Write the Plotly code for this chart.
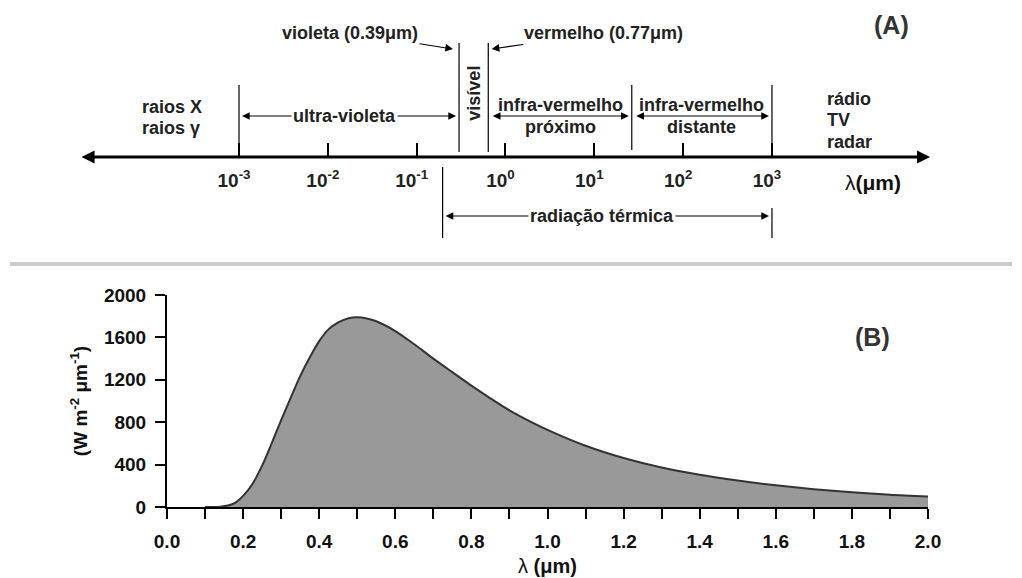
import math
import plotly.graph_objects as go

# ---------------- Panel (B): spectral irradiance ----------------
wavelength_um = [0.10, 0.12, 0.14, 0.16, 0.18, 0.20, 0.225, 0.25, 0.275, 0.30,
                 0.325, 0.35, 0.375, 0.40, 0.425, 0.45, 0.475, 0.50, 0.525, 0.55,
                 0.60, 0.65, 0.70, 0.75, 0.80, 0.85, 0.90, 0.95, 1.00, 1.10,
                 1.20, 1.30, 1.40, 1.50, 1.60, 1.70, 1.80, 1.90, 2.00]
irradiance = [0, 0, 3, 14, 42, 105, 220, 390, 600, 820,
              1030, 1235, 1410, 1565, 1678, 1742, 1779, 1790, 1779, 1752,
              1660, 1535, 1400, 1272, 1145, 1025, 912, 815, 728, 578,
              462, 372, 304, 250, 205, 168, 139, 116, 100]
x_label_ticks = [0.0, 0.2, 0.4, 0.6, 0.8, 1.0, 1.2, 1.4, 1.6, 1.8, 2.0]
y_ticks = [0, 400, 800, 1200, 1600, 2000]

# ---------------- Panel (A): electromagnetic spectrum ----------------
decade_exp = [-3, -2, -1, 0, 1, 2, 3]
decade_text = ["10<sup>-3</sup>", "10<sup>-2</sup>", "10<sup>-1</sup>", "10<sup>0</sup>",
               "10<sup>1</sup>", "10<sup>2</sup>", "10<sup>3</sup>"]
# band limits (µm) as drawn on the scale
uv_start_um = 0.001
violet_um = 0.30
red_um = 0.64
nir_fir_um = 26.4
fir_end_um = 1000
thermal_um = [0.196, 1000]
violet_label = "violeta (0.39μm)"
red_label = "vermelho (0.77μm)"

L = math.log10

W, H = 1022, 578
FONT = "Arial, 'Liberation Sans', sans-serif"
TXT = "#222222"
AX = "#000000"

fig = go.Figure()

fig.add_trace(go.Scatter(
    x=wavelength_um, y=irradiance, mode="lines", xaxis="x", yaxis="y",
    line=dict(color="#333333", width=2, shape="spline", smoothing=0.8),
    fill="tozeroy", fillcolor="#999999", hoverinfo="skip", showlegend=False))

# invisible helper trace for the spectrum-scale subplot
fig.add_trace(go.Scatter(
    x=decade_exp, y=[157] * len(decade_exp), mode="markers", xaxis="x3", yaxis="y3",
    marker=dict(opacity=0), hoverinfo="skip", showlegend=False))

# x3 range: 10^-3 at px 239, 88.83 px per decade
px_dec = 88.83
x3_range = [-3 - 239 / px_dec, -3 + (W - 239) / px_dec]

x0p, x1p = 167 / W, 928 / W
y0p, y1p = 1 - 507 / H, 1 - 295 / H

tick_font = dict(family=FONT, size=19, color="#111111")

fig.update_layout(
    width=W, height=H, margin=dict(l=0, r=0, t=0, b=0, autoexpand=False),
    paper_bgcolor="white", plot_bgcolor="rgba(0,0,0,0)",
    font=dict(family=FONT, color=TXT),
    showlegend=False,
    xaxis=dict(domain=[x0p, x1p], range=[0, 2], anchor="y", automargin=False,
               tickvals=x_label_ticks, ticktext=[f"<b>{v:.1f}</b>" for v in x_label_ticks],
               ticks="outside", ticklen=10, tickwidth=2, tickcolor=AX,
               minor=dict(dtick=0.1, tick0=0, ticks="outside", ticklen=10, tickwidth=2, tickcolor=AX),
               showline=True, linewidth=2, linecolor=AX, showgrid=False, zeroline=False,
               tickfont=tick_font, ticklabelstandoff=6,
               title=dict(text="λ <b>(μm)</b>", font=dict(family=FONT, size=20, color="#111111"), standoff=8)),
    yaxis=dict(domain=[y0p, y1p], range=[0, 2000], anchor="x", automargin=False,
               tickvals=y_ticks, ticktext=[f"<b>{v}</b>" for v in y_ticks],
               ticks="outside", ticklen=10, tickwidth=2, tickcolor=AX,
               showline=True, linewidth=2, linecolor=AX, showgrid=False, zeroline=False,
               tickfont=tick_font, ticklabelstandoff=5,
               title=dict(text="<b>(W m<sup>-2</sup> μm<sup>-1</sup>)</b>",
                          font=dict(family=FONT, size=19, color="#111111"), standoff=11)),
    xaxis2=dict(overlaying="x", anchor="y", side="top", range=[0, 2], automargin=False,
                tick0=0, dtick=0.1, ticks="inside", ticklen=10, tickwidth=2, tickcolor=AX,
                showticklabels=False, showline=True, linewidth=2, linecolor=AX,
                showgrid=False, zeroline=False),
    yaxis2=dict(overlaying="y", anchor="x", side="right", range=[0, 2000], automargin=False,
                tick0=0, dtick=400, ticks="inside", ticklen=10, tickwidth=2, tickcolor=AX,
                showticklabels=False, showline=True, linewidth=2, linecolor=AX,
                showgrid=False, zeroline=False),
    xaxis3=dict(domain=[0, 1], range=x3_range, anchor="free", position=1 - 157 / H,
                automargin=False,
                tickvals=decade_exp, ticktext=[f"<b>{t}</b>" for t in decade_text],
                ticks="inside", ticklen=14, tickwidth=2, tickcolor=AX,
                showline=False, showgrid=False, zeroline=False,
                tickfont=dict(family=FONT, size=19, color=TXT), ticklabelshift=-5,
                ticklabelstandoff=10),
    yaxis3=dict(domain=[0, 1], range=[H, 0], anchor="x3", visible=False, automargin=False),
)

shapes = []
# separator line between panels
shapes.append(dict(type="line", xref="paper", yref="paper", x0=10 / W, x1=1012 / W,
                   y0=1 - 264 / H, y1=1 - 264 / H, line=dict(color="#cccccc", width=4)))
# vertical band-limit lines
vlines = [(uv_start_um, 85, 157), (violet_um, 43, 152), (red_um, 43, 152),
          (nir_fir_um, 85, 150), (fir_end_um, 85, 157),
          (thermal_um[0], 167, 238), (thermal_um[1], 208, 238)]
for um, top, bot in vlines:
    shapes.append(dict(type="line", xref="x3", yref="y3", x0=L(um), x1=L(um), y0=top, y1=bot,
                       line=dict(color="black", width=1.2)))
fig.update_layout(shapes=shapes)

ann = []


def txt(x, y, s, size=18, xanchor="center", angle=0, color=TXT):
    ann.append(dict(x=x, y=y, xref="x3", yref="y3", text=s, showarrow=False,
                    xanchor=xanchor, yanchor="middle", textangle=angle,
                    font=dict(family=FONT, size=size, color=color)))


def arrow(xh, yh, xt, yt, s=" ", size=1, both=False, width=1.1, asize=1.4, standoff=3,
          fcolor=TXT):
    ann.append(dict(x=xh, y=yh, xref="x3", yref="y3", ax=xt, ay=yt, axref="x3", ayref="y3",
                    text=s, showarrow=True, arrowhead=2, arrowsize=asize, arrowwidth=width,
                    arrowcolor="black", standoff=standoff,
                    arrowside="end+start" if both else "end",
                    startarrowhead=2, startarrowsize=asize, startstandoff=standoff if both else 0,
                    font=dict(family=FONT, size=size, color=fcolor)))


# main axis with arrow heads at both ends
arrow(4.78, 157, -4.79, 157, both=True, width=3, asize=0.87, standoff=0)

# ultra-violet
uv_c = (L(uv_start_um) + L(violet_um)) / 2 - 0.05
arrow(L(uv_start_um), 116, uv_c, 116, "<b>ultra-violeta</b>", size=18)
arrow(L(violet_um), 116, uv_c, 116, "<b>ultra-violeta</b>", size=18, fcolor="rgba(0,0,0,0)")

# near infrared
nir_c = (L(red_um) + L(nir_fir_um)) / 2
arrow(L(nir_fir_um), 116, L(red_um), 116, both=True)
txt(nir_c, 105, "<b>infra-vermelho</b>")
txt(nir_c, 127, "<b>próximo</b>")

# far infrared
fir_c = (L(nir_fir_um) + L(fir_end_um)) / 2
arrow(L(fir_end_um), 116, L(nir_fir_um), 116, both=True)
txt(fir_c, 105, "<b>infra-vermelho</b>")
txt(fir_c, 127, "<b>distante</b>")

# thermal radiation
th_c = (L(thermal_um[0]) + L(thermal_um[1])) / 2 - 0.06
arrow(L(thermal_um[0]), 216, th_c, 216, "<b>radiação térmica</b>", size=18)
arrow(L(thermal_um[1]), 216, th_c, 216, "<b>radiação térmica</b>", size=18, fcolor="rgba(0,0,0,0)")

# visible
txt((L(violet_um) + L(red_um)) / 2, 93, "<b>visível</b>", size=18, angle=-90)

# violet / red pointers
arrow(L(violet_um) - 0.068, 49, -1.75, 33, f"<b>{violet_label}</b>", size=18, standoff=0)
arrow(L(red_um) + 0.038, 49, 1.108, 33, f"<b>{red_label}</b>", size=18, standoff=0)

# left / right regions
txt(-4.115, 107, "<b>raios X</b>", xanchor="left")
txt(-4.115, 128, "<b>raios γ</b>", xanchor="left")
txt(3.597, 99, "<b>rádio</b>", xanchor="left")
txt(3.597, 120, "<b>TV</b>", xanchor="left")
txt(3.597, 142, "<b>radar</b>", xanchor="left")

txt(4.141, 182, "λ<b>(μm)</b>", size=21, color="#111111")
txt(4.348, 25, "<b>(A)</b>", size=25, color="#333333")

# (B) label inside panel B
ann.append(dict(x=891.7 / W, y=1 - 337 / H, xref="paper", yref="paper", text="<b>(B)</b>",
                showarrow=False, font=dict(family=FONT, size=25, color="#333333")))

fig.update_layout(annotations=ann)

fig.write_html("out.html")
